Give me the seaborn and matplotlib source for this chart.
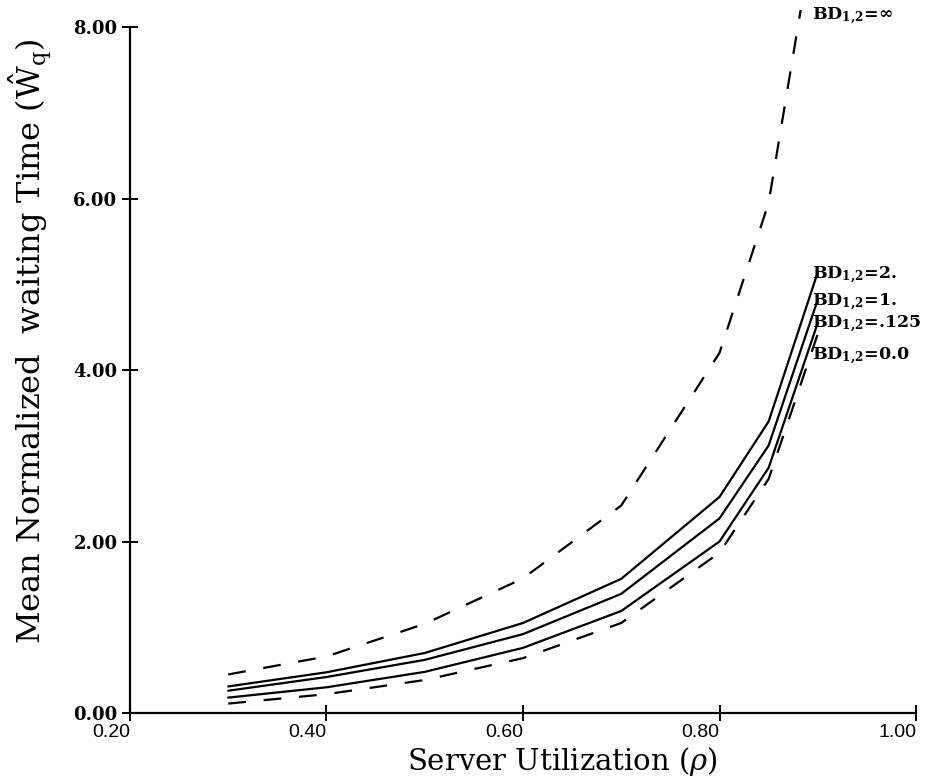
import matplotlib
matplotlib.use("Agg")
import matplotlib.pyplot as plt
import seaborn as sns
import pandas as pd

sns.set_theme(style="white")
plt.rcParams['font.family'] = ['DejaVu Serif', 'DejaVu Sans']
plt.rcParams['mathtext.fontset'] = 'dejavuserif'
plt.rcParams['text.color'] = 'black'
plt.rcParams['axes.labelcolor'] = 'black'

rho = [0.3, 0.4, 0.5, 0.6, 0.7, 0.8, 0.85, 0.9]
bd_inf = [0.45, 0.66, 1.04, 1.57, 2.42, 4.2, 5.95, 9.4]
bd_2 = [0.31, 0.475, 0.70, 1.05, 1.565, 2.52, 3.40, 5.14]
bd_1 = [0.26, 0.42, 0.62, 0.92, 1.39, 2.27, 3.12, 4.82]
bd_0125 = [0.18, 0.30, 0.48, 0.76, 1.19, 2.00, 2.86, 4.55]
bd_0 = [0.11, 0.22, 0.385, 0.64, 1.05, 1.87, 2.73, 4.42]

series_names = ["BD=inf", "BD=2", "BD=1", "BD=.125", "BD=0"]
series_vals = [bd_inf, bd_2, bd_1, bd_0125, bd_0]
labels = [r"BD$_{\mathbf{1{,}2}}$=$\mathbf{\infty}$", r"BD$_{\mathbf{1{,}2}}$=2.",
          r"BD$_{\mathbf{1{,}2}}$=1.", r"BD$_{\mathbf{1{,}2}}$=.125", r"BD$_{\mathbf{1{,}2}}$=0.0"]
label_y = [8.12, 5.10, 4.79, 4.53, 4.16]
dashed = [True, False, False, False, True]

xticks = [0.2, 0.4, 0.6, 0.8, 1.0]
yticks = [0, 2, 4, 6, 8]

df = pd.DataFrame({
    "rho": rho * len(series_names),
    "W": sum(series_vals, []),
    "series": [n for n in series_names for _ in rho],
})

fig = plt.figure(figsize=(9.33, 7.82), dpi=100)
ax = fig.add_axes([0.1393, 0.0882, 0.8425, 0.8992])

for name, is_d in zip(series_names, dashed):
    sub = df[df.series == name]
    sns.lineplot(data=sub, x="rho", y="W", ax=ax, color="black", lw=1.6,
                 linestyle=(0, (8, 8)) if is_d else "-", estimator=None,
                 legend=False)

for lab, ly in zip(labels, label_y):
    ax.text(0.8945, ly, lab, fontsize=12.5, fontweight="bold", ha="left",
            va="center", family="DejaVu Serif", clip_on=False)

ax.set_xlim(0.2, 1.0)
ax.set_ylim(0, 8.2)
ax.spines['left'].set_bounds(0, 8)
ax.spines['top'].set_visible(False)
ax.spines['right'].set_visible(False)
for s in ['left', 'bottom']:
    ax.spines[s].set_color('black')
    ax.spines[s].set_linewidth(1.6)

ax.set_xticks(xticks)
ax.set_xticklabels([f"{v:.2f}" for v in xticks], fontsize=14, ha="right",
                   family=["Liberation Sans", "DejaVu Sans"])
ax.set_yticks(yticks)
ax.set_yticklabels([f"{v:.2f}" for v in yticks], fontsize=13, fontweight="bold")
ax.tick_params(axis='both', which='major', bottom=True, left=True,
               direction='inout', length=12, width=1.4, colors='black')
ax.tick_params(axis='x', pad=2)
ax.tick_params(axis='y', pad=3)

ax.set_xlabel(r"Server Utilization ($\rho$)", fontsize=21)
ax.xaxis.set_label_coords(0.55, -0.046)
ax.set_ylabel(r"Mean Normalized  waiting Time ($\hat{\mathrm{W}}_{\mathrm{q}}$)",
              fontsize=23)
ax.yaxis.set_label_coords(-0.097, 0.528)
ax.grid(False)

fig.savefig("out.png", dpi=100)
